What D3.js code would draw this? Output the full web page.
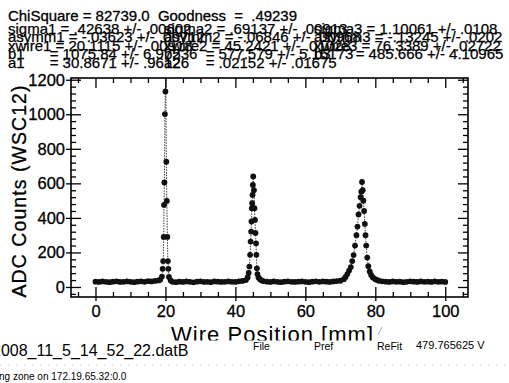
<!DOCTYPE html>
<html>
<head>
<meta charset="utf-8">
<script src="https://cdn.jsdelivr.net/npm/d3@7"></script>
<style>
  body { margin: 0; background: #fff; }
  svg { display: block; }
</style>
</head>
<body>
<script>
// wire scan: position (mm) and ADC counts
const wirePos = [
  0, 1, 2, 3, 4, 5, 6, 7, 8, 9, 10, 11, 12, 13, 14, 15, 16, 17, 18, 18.5,
  19.0, 19.2, 19.35, 19.5, 19.6, 19.7, 19.85, 20.0, 20.1, 20.25, 20.4, 20.55, 20.7, 20.85, 21.0, 21.5,
  22, 23, 24, 25, 26, 27, 28, 29, 30, 31, 32, 33, 34, 35, 36, 37, 38, 39, 40, 41, 42,
  43.0, 43.5, 43.8, 44.0, 44.2, 44.35, 44.5, 44.6, 44.7, 44.8, 44.9, 45.0, 45.1, 45.3, 45.45, 45.6, 45.75, 45.9, 46.0, 46.15, 46.3, 46.6, 47.0, 47.5,
  48, 49, 50, 51, 52, 53, 54, 55, 56, 57, 58, 59, 60, 61, 62, 63, 64, 65, 66, 67, 68, 69, 70,
  71.0, 71.5, 72.0, 72.5, 73.0, 73.4, 73.8, 74.2, 74.6, 74.9, 75.2, 75.5, 75.8, 76.0, 76.2, 76.4, 76.6, 76.8, 77.0, 77.2, 77.4, 77.7, 78.0, 78.4, 78.8, 79.3, 80, 80.5, 81,
  82, 83, 84, 85, 86, 87, 88, 89, 90, 91, 92, 93, 94, 95, 96, 97, 98, 99, 100
];
const adcCounts = [
  31, 29, 32, 30, 28, 31, 33, 29, 30, 32, 30, 28, 31, 33, 30, 34, 32, 35, 38, 42,
  60, 105, 150, 290, 475, 605, 1001, 1132, 1265, 725, 498, 290, 150, 105, 58, 38,
  30, 28, 31, 29, 32, 30, 27, 31, 33, 29, 30, 28, 32, 31, 29, 30, 32, 30, 29, 33, 35,
  40, 55, 81, 118, 186, 263, 321, 379, 456, 485, 533, 591, 640, 560, 456, 388, 313, 253, 186, 108, 75, 55, 45, 38,
  34, 31, 29, 32, 30, 28, 31, 33, 30, 29, 31, 32, 30, 28, 31, 33, 30, 32, 31, 29, 32, 34, 36,
  45, 58, 75, 95, 115, 150, 185, 240, 300, 350, 420, 470, 520, 552, 608, 560, 500, 440, 365, 300, 240, 170, 120, 90, 70, 55, 45, 40, 36,
  33, 31, 29, 32, 30, 31, 28, 30, 33, 31, 29, 32, 30, 31, 29, 32, 30, 31, 29
];

const xTicks = [0, 20, 40, 60, 80, 100];
const yTicks = [0, 200, 400, 600, 800, 1000, 1200];

// fit output text, three columns of parameters
const headLine = "ChiSquare = 82739.0  Goodness  =  .49239";
const fitCol1 = [
  "sigma1 = .42638 +/- .00602",
  "asymm1 = -.03623 +/- .00712",
  "xwire1 = 20.1115 +/- .00918",
  "b1      = 1075.84 +/- 6.97536",
  "a1      = 30.8671 +/- .96126"
];
const fitCol2 = [
  "sigma2 = .69137 +/- .00913",
  "asymm2 = -.06846 +/- .00968",
  "xwire2 = 45.2421 +/- .01028",
  "b2      = 577.579 +/- 5.16173",
  "a2      = .02152 +/- .01675"
];
const fitCol3 = [
  "sigma3 = 1.10061 +/- .0108",
  "asymm3 = -.13245 +/- .0202",
  "xwire3 = 76.3389 +/- .02722",
  "b3      = 485.666 +/- 4.10965"
];

const width = 509, height = 383;
const pLeft = 71, pRight = 468, pTop = 78, pBottom = 297;

const svg = d3.select("body").append("svg")
  .attr("width", width)
  .attr("height", height)
  .style("font-family", "'Liberation Sans', Arial, sans-serif");

svg.append("rect").attr("width", width).attr("height", height).attr("fill", "#fff");

const x = d3.scaleLinear().domain([-7, 106.5]).range([pLeft, pRight]);
const y = d3.scaleLinear().domain([-58, 1210]).range([pBottom, pTop]);

const defs = svg.append("defs");
defs.append("clipPath").attr("id", "plotClip")
  .append("rect").attr("x", pLeft).attr("y", pTop)
  .attr("width", pRight - pLeft).attr("height", pBottom - pTop);
defs.append("clipPath").attr("id", "titleClip")
  .append("rect").attr("x", 0).attr("y", 300).attr("width", width).attr("height", 40.5);

// header text
svg.append("text").attr("x", 8).attr("y", 21)
  .attr("font-size", 15).attr("xml:space", "preserve")
  .attr("textLength", 289).attr("lengthAdjust", "spacing")
  .attr("stroke", "#000").attr("stroke-width", 0.3)
  .text(headLine);

function fitColumn(lines, x0) {
  svg.append("g").selectAll("text").data(lines).enter().append("text")
    .attr("x", x0)
    .attr("y", (d, i) => 34 + i * 8.4)
    .attr("font-size", 15)
    .attr("xml:space", "preserve")
    .attr("stroke", "#000").attr("stroke-width", 0.25)
    .text(d => d);
}
fitColumn(fitCol1, 8);
fitColumn(fitCol2, 164);
fitColumn(fitCol3, 314);

// data
const pts = wirePos.map((d, i) => ({ x: d, y: adcCounts[i] }));
const plot = svg.append("g").attr("clip-path", "url(#plotClip)");

plot.append("path")
  .datum(pts)
  .attr("fill", "none")
  .attr("stroke", "#222")
  .attr("stroke-width", 0.9)
  .attr("stroke-dasharray", "1.5,1.2")
  .attr("d", d3.line().x(d => x(d.x)).y(d => y(d.y)));

plot.selectAll("circle").data(pts).enter().append("circle")
  .attr("cx", d => x(d.x))
  .attr("cy", d => y(d.y))
  .attr("r", 2.9)
  .attr("fill", "#111");

// axes: major ticks cross the frame, minor ticks point inward
const minorX = d3.range(-5, 106, 5).filter(v => v % 20 != 0);
const minorY = d3.range(-40, 1201, 40).filter(v => v % 200 != 0);

function styleAxis(g) {
  g.select(".domain").remove();
  g.selectAll("line").attr("stroke", "#000").attr("stroke-width", 1.3);
  g.selectAll("text").attr("font-family", "'Liberation Sans', Arial, sans-serif").attr("fill", "#000")
    .attr("stroke", "#000").attr("stroke-width", 0.3);
}

svg.append("g").attr("transform", `translate(0,${pBottom})`)
  .call(d3.axisBottom(x).tickValues(xTicks).tickSize(-10).tickPadding(8).tickFormat(d3.format("d")))
  .call(styleAxis).selectAll("text").attr("font-size", 16.5);
svg.append("g").attr("transform", `translate(0,${pBottom})`)
  .call(d3.axisBottom(x).tickValues(xTicks).tickSize(4).tickFormat(""))
  .call(styleAxis);
svg.append("g").attr("transform", `translate(0,${pBottom})`)
  .call(d3.axisBottom(x).tickValues(minorX).tickSize(-5).tickFormat(""))
  .call(styleAxis);
svg.append("g").attr("transform", `translate(0,${pTop})`)
  .call(d3.axisTop(x).tickValues(xTicks).tickSize(-10).tickFormat(""))
  .call(styleAxis);
svg.append("g").attr("transform", `translate(0,${pTop})`)
  .call(d3.axisTop(x).tickValues(minorX).tickSize(-5).tickFormat(""))
  .call(styleAxis);

svg.append("g").attr("transform", `translate(${pLeft},0)`)
  .call(d3.axisLeft(y).tickValues(yTicks).tickSize(-10).tickPadding(6).tickFormat(d3.format("d")))
  .call(styleAxis).selectAll("text").attr("font-size", 16.5);
svg.append("g").attr("transform", `translate(${pLeft},0)`)
  .call(d3.axisLeft(y).tickValues(yTicks).tickSize(5).tickFormat(""))
  .call(styleAxis);
svg.append("g").attr("transform", `translate(${pLeft},0)`)
  .call(d3.axisLeft(y).tickValues(minorY).tickSize(-5).tickFormat(""))
  .call(styleAxis);
svg.append("g").attr("transform", `translate(${pRight},0)`)
  .call(d3.axisRight(y).tickValues(yTicks).tickSize(-10).tickFormat(""))
  .call(styleAxis);
svg.append("g").attr("transform", `translate(${pRight},0)`)
  .call(d3.axisRight(y).tickValues(minorY).tickSize(-5).tickFormat(""))
  .call(styleAxis);

// frame
svg.append("rect")
  .attr("x", pLeft).attr("y", pTop)
  .attr("width", pRight - pLeft).attr("height", pBottom - pTop)
  .attr("fill", "none").attr("stroke", "#000").attr("stroke-width", 1.6);

// axis titles
svg.append("text")
  .attr("transform", `translate(26,${(pTop + pBottom) / 2 + 4}) rotate(-90)`)
  .attr("text-anchor", "middle")
  .attr("font-size", 19.5)
  .attr("textLength", 212).attr("lengthAdjust", "spacing")
  .attr("stroke", "#000").attr("stroke-width", 0.3)
  .text("ADC Counts (WSC12)");

svg.append("text")
  .attr("x", 272).attr("y", 342)
  .attr("text-anchor", "middle")
  .attr("font-size", 22)
  .attr("textLength", 202).attr("lengthAdjust", "spacing")
  .attr("clip-path", "url(#titleClip)")
  .text("Wire Position [mm]");
svg.append("line").attr("x1", 378).attr("y1", 335).attr("x2", 382).attr("y2", 327)
  .attr("stroke", "#888").attr("stroke-width", 0.7);

// status bar underneath
svg.append("text").attr("x", -8).attr("y", 356).attr("font-size", 16)
  .text("2008_11_5_14_52_22.datB");
const buttons = ["File", "Pref", "ReFit"];
const buttonX = [253, 314, 377];
svg.selectAll(".btn").data(buttons).enter().append("text")
  .attr("class", "btn")
  .attr("x", (d, i) => buttonX[i]).attr("y", 350)
  .attr("font-size", 10.5)
  .text(d => d);
svg.append("text").attr("x", 416).attr("y", 349).attr("font-size", 11)
  .text("479.765625 V");
svg.append("line").attr("x1", 0).attr("x2", width).attr("y1", 365).attr("y2", 365)
  .attr("stroke", "#bbb").attr("stroke-width", 1).attr("stroke-dasharray", "1,7");
svg.append("text").attr("x", -1).attr("y", 380).attr("font-size", 10)
  .text("ng zone on 172.19.65.32:0.0");
</script>
</body>
</html>
